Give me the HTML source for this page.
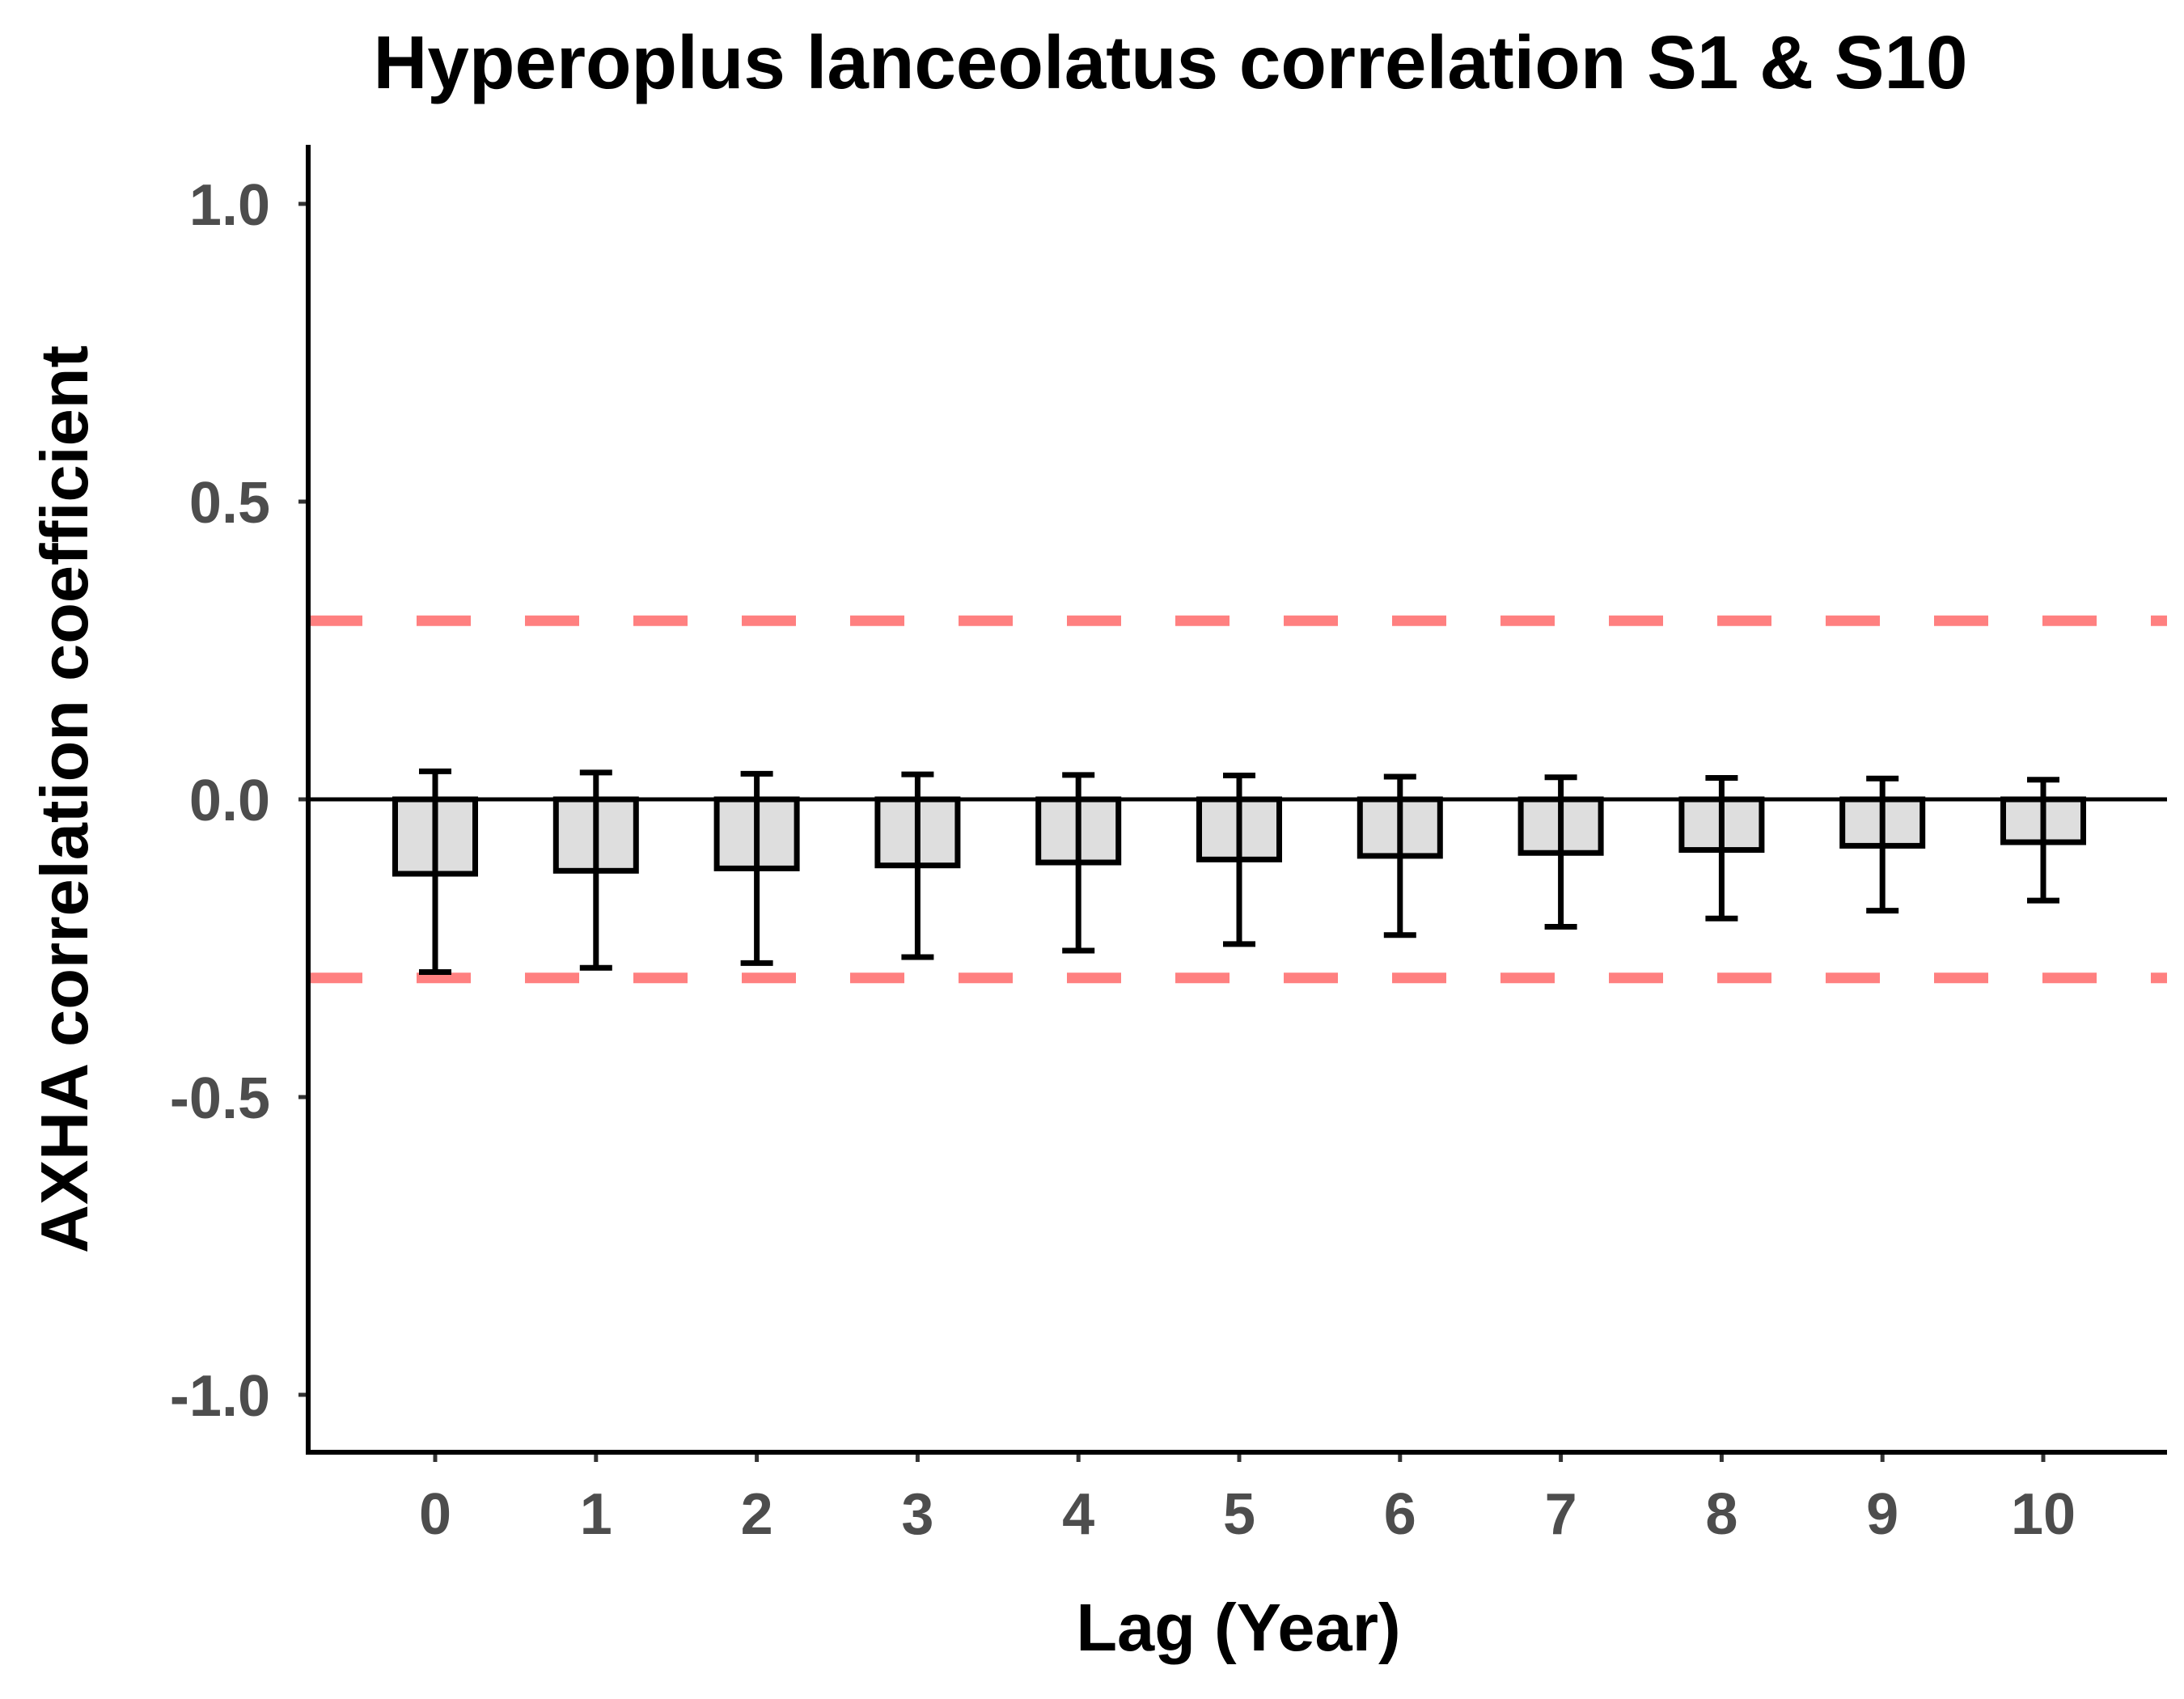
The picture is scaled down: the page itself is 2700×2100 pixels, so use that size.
<!DOCTYPE html>
<html><head><meta charset="utf-8"><style>
html,body{margin:0;padding:0;background:#fff;}
svg{display:block;font-family:"Liberation Sans",Arial,sans-serif;font-weight:bold;}
</style></head><body>
<svg id="chart" width="2700" height="2100" viewBox="0 0 2700 2100" xmlns="http://www.w3.org/2000/svg">
<rect width="2700" height="2100" fill="#fff"/>
<text x="1447" y="109" font-size="93" text-anchor="middle" textLength="1971" lengthAdjust="spacingAndGlyphs" fill="#000">Hyperoplus lanceolatus correlation S1 &amp; S10</text>
<g id="plot"></g>
<text x="1531" y="2040" font-size="83" text-anchor="middle" fill="#000">Lag (Year)</text>
<text transform="translate(108,988) rotate(-90)" font-size="83" text-anchor="middle" fill="#000">AXHA correlation coefficient</text>
</svg>
<script>
const lags = ["0","1","2","3","4","5","6","7","8","9","10"];
const coef = [-0.125,-0.12,-0.116,-0.111,-0.106,-0.101,-0.095,-0.09,-0.085,-0.078,-0.072];
const errUpper = [0.047,0.045,0.043,0.042,0.041,0.040,0.038,0.037,0.036,0.035,0.033];
const errLower = [-0.29,-0.283,-0.275,-0.265,-0.254,-0.243,-0.228,-0.214,-0.2,-0.187,-0.17];
const yTicks = [1.0,0.5,0.0,-0.5,-1.0];
const yTickLabels = ["1.0","0.5","0.0","-0.5","-1.0"];
const threshold = [0.3,-0.3];

const NS="http://www.w3.org/2000/svg";
const g=document.getElementById('plot');
const pLeft=381,pRight=2679,pTop=179,pBottom=1795;
function yS(v){return 988-v*736;}
function xS(i){return 538+i*198.8;}
function mk(tag,attrs){const e=document.createElementNS(NS,tag);for(const k in attrs)e.setAttribute(k,attrs[k]);g.appendChild(e);return e;}

threshold.forEach((t,i)=>{
  const l=mk('line',{x1:pLeft,x2:pRight,y1:yS(t),y2:yS(t),stroke:'#ff8080','stroke-width':13,'stroke-dasharray':'67 67'});
  
  
});
const z=mk('line',{x1:pLeft,x2:pRight,y1:yS(0),y2:yS(0),stroke:'#000','stroke-width':5});



const bw=99;
lags.forEach((lab,i)=>{
  const cx=xS(i);
  const y0=yS(0),y1=yS(coef[i]);
  const b=mk('rect',{x:cx-bw/2,y:Math.min(y0,y1),width:bw,height:Math.abs(y1-y0),fill:'#dedede',stroke:'#000','stroke-width':7});
  
  
  const e=mk('path',{d:`M${cx-20},${yS(errUpper[i])}H${cx+20}M${cx},${yS(errUpper[i])}V${yS(errLower[i])}M${cx-20},${yS(errLower[i])}H${cx+20}`,stroke:'#000','stroke-width':7,fill:'none'});
  
  
  const tk=mk('line',{x1:cx,x2:cx,y1:pBottom,y2:pBottom+12,stroke:'#333','stroke-width':5});
  
  
  const t=mk('text',{x:cx,y:1896,'font-size':72,'text-anchor':'middle',fill:'#4d4d4d'});
  t.textContent=lab;
  
  
});

yTicks.forEach((v,i)=>{
  const tk=mk('line',{x1:pLeft-12,x2:pLeft,y1:yS(v),y2:yS(v),stroke:'#333','stroke-width':5});
  
  
  const t=mk('text',{x:334,y:yS(v)+26,'font-size':72,'text-anchor':'end',fill:'#4d4d4d'});
  t.textContent=yTickLabels[i];
  
  
});

const ya=mk('line',{x1:pLeft,x2:pLeft,y1:pTop,y2:pBottom+3,stroke:'#000','stroke-width':6});


const xa=mk('line',{x1:pLeft-3,x2:pRight,y1:pBottom,y2:pBottom,stroke:'#000','stroke-width':6});


</script>
</body></html>
